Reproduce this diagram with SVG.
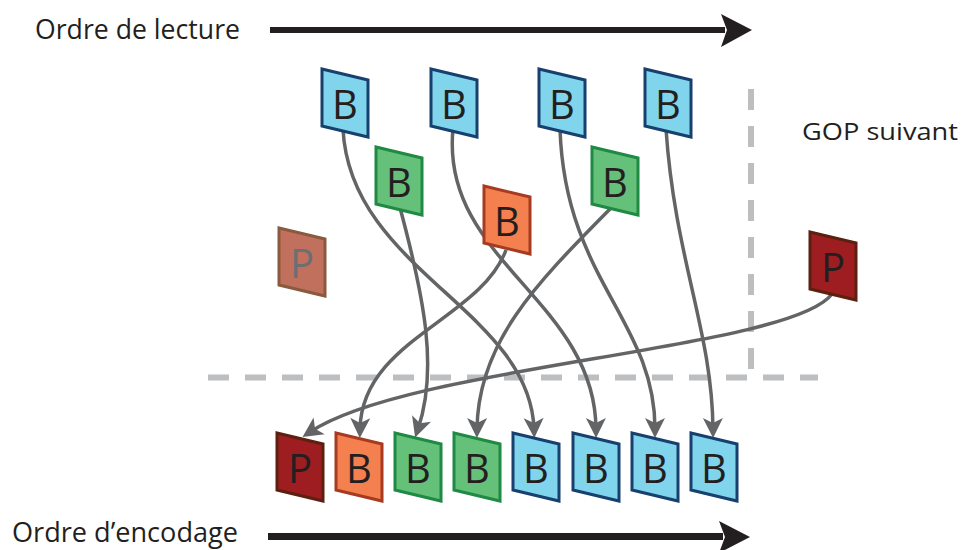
<svg xmlns="http://www.w3.org/2000/svg" width="961" height="550" viewBox="0 0 961 550">
<style>
.lbl{font-family:"Open Sans","Noto Sans","Liberation Sans",sans-serif;fill:#231f20}
.big{font-family:"Open Sans","Noto Sans","Liberation Sans",sans-serif;font-size:40px;fill:#231f20;text-anchor:middle}
.fr{stroke-width:3;stroke-linejoin:miter}
.blue{fill:#80d4ec;stroke:#17406f}
.green{fill:#65c07a;stroke:#1f8a43}
.orange{fill:#f3804e;stroke:#a63b21}
.red{fill:#9e1d20;stroke:#5b200f}
.faded{fill:#c0705c;stroke:#8a5a3e}
.conn{fill:none;stroke:#636466;stroke-width:3.5}
.dash{fill:none;stroke:#bcbec0;stroke-width:6;stroke-dasharray:21 16}
</style>
<defs>
<polygon id="frame" points="0,0 46,11 46,68 0,57"/>
<marker id="ah" markerUnits="userSpaceOnUse" markerWidth="30" markerHeight="30" refX="0" refY="0" orient="auto" overflow="visible">
<path d="M9,0 L-11,-10 L-6,0 L-11,10 Z" fill="#636466"/>
</marker>
</defs>

<g id="title-read">
<text class="lbl" x="35" y="39" font-size="27" textLength="205" lengthAdjust="spacingAndGlyphs">Ordre de lecture</text>
<rect x="270" y="27" width="455" height="6" fill="#231f20"/>
<polygon points="752,30 721,14 727,30 721,47" fill="#231f20"/>
</g>
<g id="title-encode">
<text class="lbl" x="12" y="542" font-size="27" textLength="226" lengthAdjust="spacingAndGlyphs">Ordre d’encodage</text>
<rect x="268" y="533" width="455" height="7" fill="#231f20"/>
<polygon points="750,537 719,521 725,537 719,553" fill="#231f20"/>
</g>
<g id="gop-label">
<text class="lbl" x="802" y="140" font-size="23" textLength="156" lengthAdjust="spacingAndGlyphs">GOP suivant</text>
</g>
<g id="gop-boundary">
<path class="dash" d="M751,89 V377"/>
<path class="dash" d="M208,377.5 H818"/>
</g>

<g id="connectors">
<path class="conn" marker-end="url(#ah)" d="M343,129 C350,270 530,310 534,429"/>
<path class="conn" marker-end="url(#ah)" d="M453,129 C440,260 595,300 596,429"/>
<path class="conn" marker-end="url(#ah)" d="M560,129 C565,280 655,320 655,429"/>
<path class="conn" marker-end="url(#ah)" d="M666,129 C675,260 712,330 713,429"/>
<path class="conn" marker-end="url(#ah)" d="M506,250 C480,320 362,340 360,429"/>
<path class="conn" marker-end="url(#ah)" d="M399,204 C425,300 438,370 418,429"/>
<path class="conn" marker-end="url(#ah)" d="M614,205 C540,280 478,340 477,429"/>
<path class="conn" marker-end="url(#ah)" d="M832,294 C790,350 410,365 310,432"/>
</g>

<g id="read-P-prev" transform="translate(279,228)"><use href="#frame" class="fr faded"/><text class="big" x="23" y="50" style="fill:#6d6e71">P</text></g>
<g id="read-B1" transform="translate(322,69)"><use href="#frame" class="fr blue"/><text class="big" x="23" y="50">B</text></g>
<g id="read-B2" transform="translate(376,147)"><use href="#frame" class="fr green"/><text class="big" x="23" y="50">B</text></g>
<g id="read-B3" transform="translate(431,69)"><use href="#frame" class="fr blue"/><text class="big" x="23" y="50">B</text></g>
<g id="read-B4" transform="translate(484,186)"><use href="#frame" class="fr orange"/><text class="big" x="23" y="50">B</text></g>
<g id="read-B5" transform="translate(539,69)"><use href="#frame" class="fr blue"/><text class="big" x="23" y="50">B</text></g>
<g id="read-B6" transform="translate(592,147)"><use href="#frame" class="fr green"/><text class="big" x="23" y="50">B</text></g>
<g id="read-B7" transform="translate(645,69)"><use href="#frame" class="fr blue"/><text class="big" x="23" y="50">B</text></g>
<g id="read-P-next" transform="translate(810,232)"><use href="#frame" class="fr red"/><text class="big" x="23" y="50">P</text></g>

<g id="enc-P" transform="translate(277,433)"><use href="#frame" class="fr red"/><text class="big" x="23" y="50">P</text></g>
<g id="enc-B1" transform="translate(336,433)"><use href="#frame" class="fr orange"/><text class="big" x="23" y="50">B</text></g>
<g id="enc-B2" transform="translate(395,433)"><use href="#frame" class="fr green"/><text class="big" x="23" y="50">B</text></g>
<g id="enc-B3" transform="translate(454,433)"><use href="#frame" class="fr green"/><text class="big" x="23" y="50">B</text></g>
<g id="enc-B4" transform="translate(513,433)"><use href="#frame" class="fr blue"/><text class="big" x="23" y="50">B</text></g>
<g id="enc-B5" transform="translate(573,433)"><use href="#frame" class="fr blue"/><text class="big" x="23" y="50">B</text></g>
<g id="enc-B6" transform="translate(632,433)"><use href="#frame" class="fr blue"/><text class="big" x="23" y="50">B</text></g>
<g id="enc-B7" transform="translate(691,433)"><use href="#frame" class="fr blue"/><text class="big" x="23" y="50">B</text></g>
</svg>
